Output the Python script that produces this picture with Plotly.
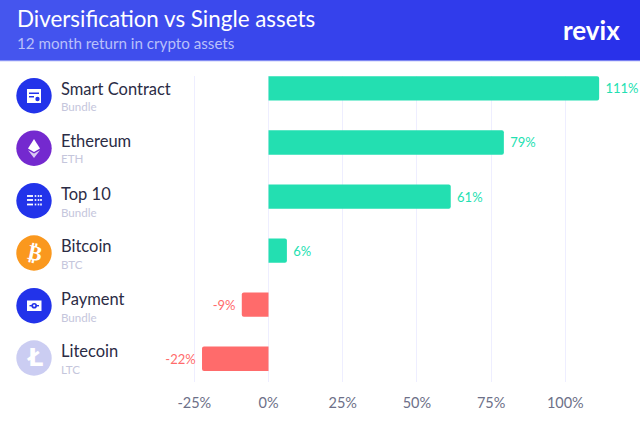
import plotly.graph_objects as go

W = 640
H = 426
FONT = "Lato"

names = ["Smart Contract", "Ethereum", "Top 10", "Bitcoin", "Payment", "Litecoin"]
subs = ["Bundle", "ETH", "Bundle", "BTC", "Bundle", "LTC"]
returns = [111.4, 79.3, 61.4, 6.2, -9, -22.4]
bar_labels = ["111%", "79%", "61%", "6%", "-9%", "-22%"]
tick_vals = [-25, 0, 25, 50, 75, 100]
tick_text = ["-25%", "0%", "25%", "50%", "75%", "100%"]
icon_colors = ["#2233ea", "#7429cf", "#2233ea", "#fa981e", "#2233ea", "#cbcdf2"]

TEAL = "#23dfb1"
RED = "#ff6b6b"
GRID = "#eeeeff"


def px(x):
    return x / W


def py(y):
    return 1 - y / H


def poly(points, color):
    # closed filled path from pixel positions
    d = "M " + " L ".join(f"{px(x)},{py(y)}" for x, y in points) + " Z"
    return dict(type="path", path=d, xref="paper", yref="paper", fillcolor=color,
                line_width=0, layer="above")


def rect(x0, y0, x1, y1, color):
    return dict(type="rect", xref="paper", yref="paper", x0=px(x0), x1=px(x1),
                y0=py(y0), y1=py(y1), fillcolor=color, line_width=0, layer="above")


def circle(cx, cy, r, color):
    return dict(type="circle", xref="paper", yref="paper", x0=px(cx - r), x1=px(cx + r),
                y0=py(cy + r), y1=py(cy - r), fillcolor=color, line_width=0, layer="above")


colors = [TEAL if v >= 0 else RED for v in returns]
# nbsp on the bar side, plotly's outside text sits too close otherwise
padded_labels = [("\u00a0" + s) if v >= 0 else (s + "\u00a0") for s, v in zip(bar_labels, returns)]

fig = go.Figure(go.Bar(
    y=names,
    x=returns,
    orientation="h",
    width=0.45,
    marker=dict(color=colors, cornerradius=2, line_width=0),
    text=padded_labels,
    textposition="outside",
    textfont=dict(family=FONT, size=13, color=colors),
    cliponaxis=False,
    hoverinfo="skip",
))

shapes = []

# header band, blue gradient running left to right
steps = 64
for i in range(steps):
    t = i / (steps - 1)
    r = round(0x45 + (0x28 - 0x45) * t)
    g = round(0x56 + (0x30 - 0x56) * t)
    b = round(0xee + (0xea - 0xee) * t)
    shapes.append(rect(W * i / steps, 0, W * (i + 1) / steps + 1, 61, f"rgb({r},{g},{b})"))
shapes.append(rect(0, 60.5, W, 61.5, "#c9cdfa"))

# icon discs
icon_y = [95.7, 148.2, 200.7, 253, 305.7, 358]
for c, cy in zip(icon_colors, icon_y):
    shapes.append(circle(34, cy, 17.7, c))

# smart contract glyph
shapes.append(rect(27, 89, 41, 103, "white"))
shapes.append(rect(29, 92.5, 39, 94, "#2233ea"))
shapes.append(rect(29, 96, 34, 97.5, "#2233ea"))
shapes.append(circle(37.5, 99, 2.2, "#2233ea"))

# ethereum glyph
shapes.append(poly([(34, 139), (40, 148.5), (34, 152), (28, 148.5)], "white"))
shapes.append(poly([(34, 153.5), (40, 150.2), (34, 158), (28, 150.2)], "rgba(255,255,255,0.75)"))

# top 10 glyph
for row, yy in enumerate([196, 200, 204.5]):
    shapes.append(rect(27, yy - 0.9, 33, yy + 0.9, "white"))
    for xx in [35.5, 38.5, 41]:
        shapes.append(rect(xx - 0.8, yy - 0.9, xx + 0.8, yy + 0.9, "white"))

# payment glyph
shapes.append(rect(27, 300.5, 41.5, 311, "white"))
shapes.append(circle(34.2, 305.7, 2.8, "#2233ea"))
shapes.append(rect(29.5, 305, 39, 306.4, "#2233ea"))
shapes.append(circle(34.2, 305.7, 1.1, "white"))

annotations = []


def add_text(x, y, text, size, color, anchor="left", family=FONT, **kw):
    annotations.append(dict(xref="paper", yref="paper", x=px(x), y=py(y), text=text,
                            showarrow=False, xanchor=anchor, yanchor="middle",
                            font=dict(family=family, size=size, color=color), **kw))


add_text(15, 18.5, "Diversification vs Single assets", 22.4, "white")
add_text(14.5, 43, "12 month return in crypto assets", 15.2, "#b9c0fa")
add_text(560.5, 30, "<b>revix</b>", 26, "white")

name_y = [89, 141.3, 194, 246, 299, 351]
sub_y = [106.8, 159, 212, 264, 317, 369]
for n, s, ny, sy in zip(names, subs, name_y, sub_y):
    add_text(59, ny, n, 16.5, "#2b2c45")
    add_text(59, sy, s, 11.6, "#c5c6dc")

add_text(34.5, 253, "<b>₿</b>", 21, "white", anchor="center", family="DejaVu Sans", textangle=12)
add_text(34, 358, "<b>Ł</b>", 24, "white", anchor="center", family="DejaVu Sans")

# 1% of return is 2.968 px, zero sits at 268.5 px; left edge a bit past -25 so its gridline draws
left_px = 190
x_min = (left_px - 268.5) / 2.968
x_max = (W - 268.5) / 2.968

fig.update_layout(
    width=W,
    height=H,
    margin=dict(l=0, r=0, t=0, b=0),
    paper_bgcolor="white",
    plot_bgcolor="white",
    showlegend=False,
    shapes=shapes,
    annotations=annotations,
    xaxis=dict(
        automargin=False,
        domain=[px(left_px), 1],
        range=[x_min, x_max],
        tickvals=tick_vals,
        ticktext=tick_text,
        tickfont=dict(family=FONT, size=14.5, color="#6d7088"),
        ticklen=0,
        ticklabelstandoff=10,
        gridcolor=GRID,
        gridwidth=1,
        zeroline=True,
        zerolinecolor=GRID,
        zerolinewidth=1,
        showline=False,
    ),
    yaxis=dict(
        automargin=False,
        domain=[py(382), py(76)],
        range=[5.43, -0.23],
        categoryorder="array",
        categoryarray=names,
        showticklabels=False,
        showgrid=False,
        zeroline=False,
        ticklen=0,
    ),
)

# the page's default body margin would shift everything by 8 px
fig.write_html("out.html", config={"displayModeBar": False},
               post_script="document.body.style.margin='0';")
